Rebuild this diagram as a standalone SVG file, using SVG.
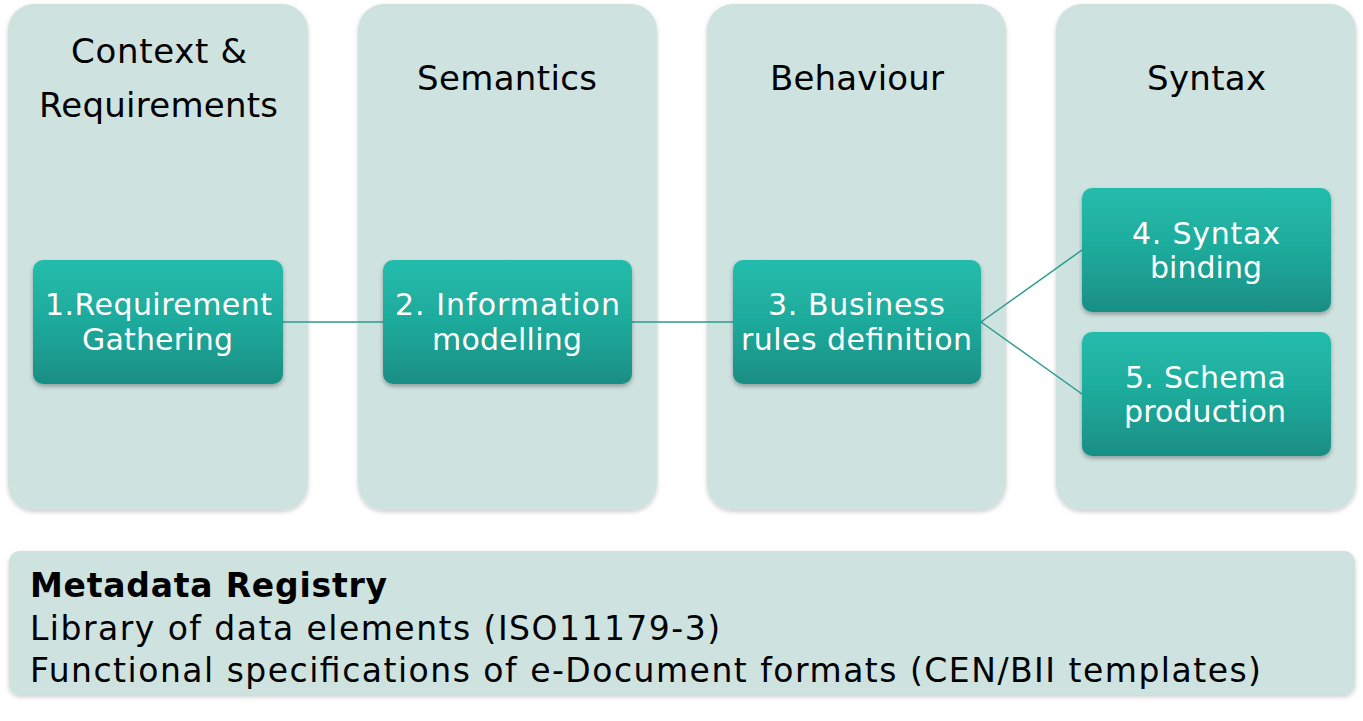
<svg xmlns="http://www.w3.org/2000/svg" width="1363" height="721" viewBox="0 0 1363 721">
<defs>
<linearGradient id="g" x1="0" y1="0" x2="0" y2="1">
<stop offset="0" stop-color="#21bcac"/>
<stop offset="0.5" stop-color="#1faa9b"/>
<stop offset="1" stop-color="#198e84"/>
</linearGradient>
<filter id="sh" x="-10%" y="-10%" width="120%" height="130%">
<feDropShadow dx="0" dy="2.5" stdDeviation="2" flood-color="#000" flood-opacity="0.3"/>
</filter>
<filter id="sh2" x="-10%" y="-10%" width="120%" height="130%">
<feDropShadow dx="0" dy="2" stdDeviation="2" flood-color="#000" flood-opacity="0.2"/>
</filter>
</defs>
<style>
.panel{fill:#cee2df;filter:url(#sh2)}
.box{fill:url(#g);filter:url(#sh)}
.title{font-family:"DejaVu Sans",Verdana,sans-serif;font-size:34px;fill:#000}
.bt{font-family:"DejaVu Sans",Verdana,sans-serif;font-size:30px;fill:#fff}
.reg{font-family:"DejaVu Sans",Verdana,sans-serif;font-size:33px;fill:#000}
.conn{stroke:#2a9a8f;stroke-width:1.5;fill:none}
</style>
<rect width="1363" height="721" fill="#fff"/>
<g id="col-context">
<rect class="panel" x="8" y="4" width="300" height="506" rx="26"/>
<text class="title" x="71" y="63" textLength="176" lengthAdjust="spacing">Context &amp;</text>
<text class="title" x="39" y="117" textLength="239" lengthAdjust="spacing">Requirements</text>
</g>
<g id="col-semantics">
<rect class="panel" x="358" y="4" width="299" height="506" rx="26"/>
<text class="title" x="417" y="90" textLength="180" lengthAdjust="spacing">Semantics</text>
</g>
<g id="col-behaviour">
<rect class="panel" x="707" y="4" width="299" height="506" rx="26"/>
<text class="title" x="770" y="90" textLength="174" lengthAdjust="spacing">Behaviour</text>
</g>
<g id="col-syntax">
<rect class="panel" x="1056" y="4" width="300" height="506" rx="26"/>
<text class="title" x="1147" y="90" textLength="119" lengthAdjust="spacing">Syntax</text>
</g>
<g id="connectors">
<line class="conn" x1="283" y1="322" x2="383" y2="322"/>
<line class="conn" x1="632" y1="322" x2="733" y2="322"/>
<line class="conn" x1="981" y1="322" x2="1082" y2="250"/>
<line class="conn" x1="981" y1="322" x2="1082" y2="394"/>
</g>
<g id="n1">
<rect class="box" x="33" y="260" width="250" height="124" rx="10"/>
<text class="bt" x="45" y="315" textLength="227" lengthAdjust="spacing">1.Requirement</text>
<text class="bt" x="82" y="350" textLength="151" lengthAdjust="spacing">Gathering</text>
</g>
<g id="n2">
<rect class="box" x="383" y="260" width="249" height="124" rx="10"/>
<text class="bt" x="395" y="315" textLength="225" lengthAdjust="spacing">2. Information</text>
<text class="bt" x="432" y="350" textLength="150" lengthAdjust="spacing">modelling</text>
</g>
<g id="n3">
<rect class="box" x="733" y="260" width="248" height="124" rx="10"/>
<text class="bt" x="768" y="315" textLength="177" lengthAdjust="spacing">3. Business</text>
<text class="bt" x="741" y="350" textLength="231" lengthAdjust="spacing">rules definition</text>
</g>
<g id="n4">
<rect class="box" x="1082" y="188" width="249" height="124" rx="10"/>
<text class="bt" x="1132" y="244" textLength="148" lengthAdjust="spacing">4. Syntax</text>
<text class="bt" x="1150" y="278" textLength="112" lengthAdjust="spacing">binding</text>
</g>
<g id="n5">
<rect class="box" x="1082" y="332" width="249" height="124" rx="10"/>
<text class="bt" x="1125" y="388" textLength="161" lengthAdjust="spacing">5. Schema</text>
<text class="bt" x="1124" y="422" textLength="162" lengthAdjust="spacing">production</text>
</g>
<g id="registry">
<rect class="panel" x="9" y="551" width="1346" height="144" rx="11"/>
<text class="reg" x="30" y="597" font-weight="bold" textLength="357" lengthAdjust="spacing">Metadata Registry</text>
<text class="reg" x="30" y="640" textLength="690" lengthAdjust="spacing">Library of data elements (ISO11179-3)</text>
<text class="reg" x="30" y="682" textLength="1231" lengthAdjust="spacing">Functional specifications of e-Document formats (CEN/BII templates)</text>
</g>
</svg>
